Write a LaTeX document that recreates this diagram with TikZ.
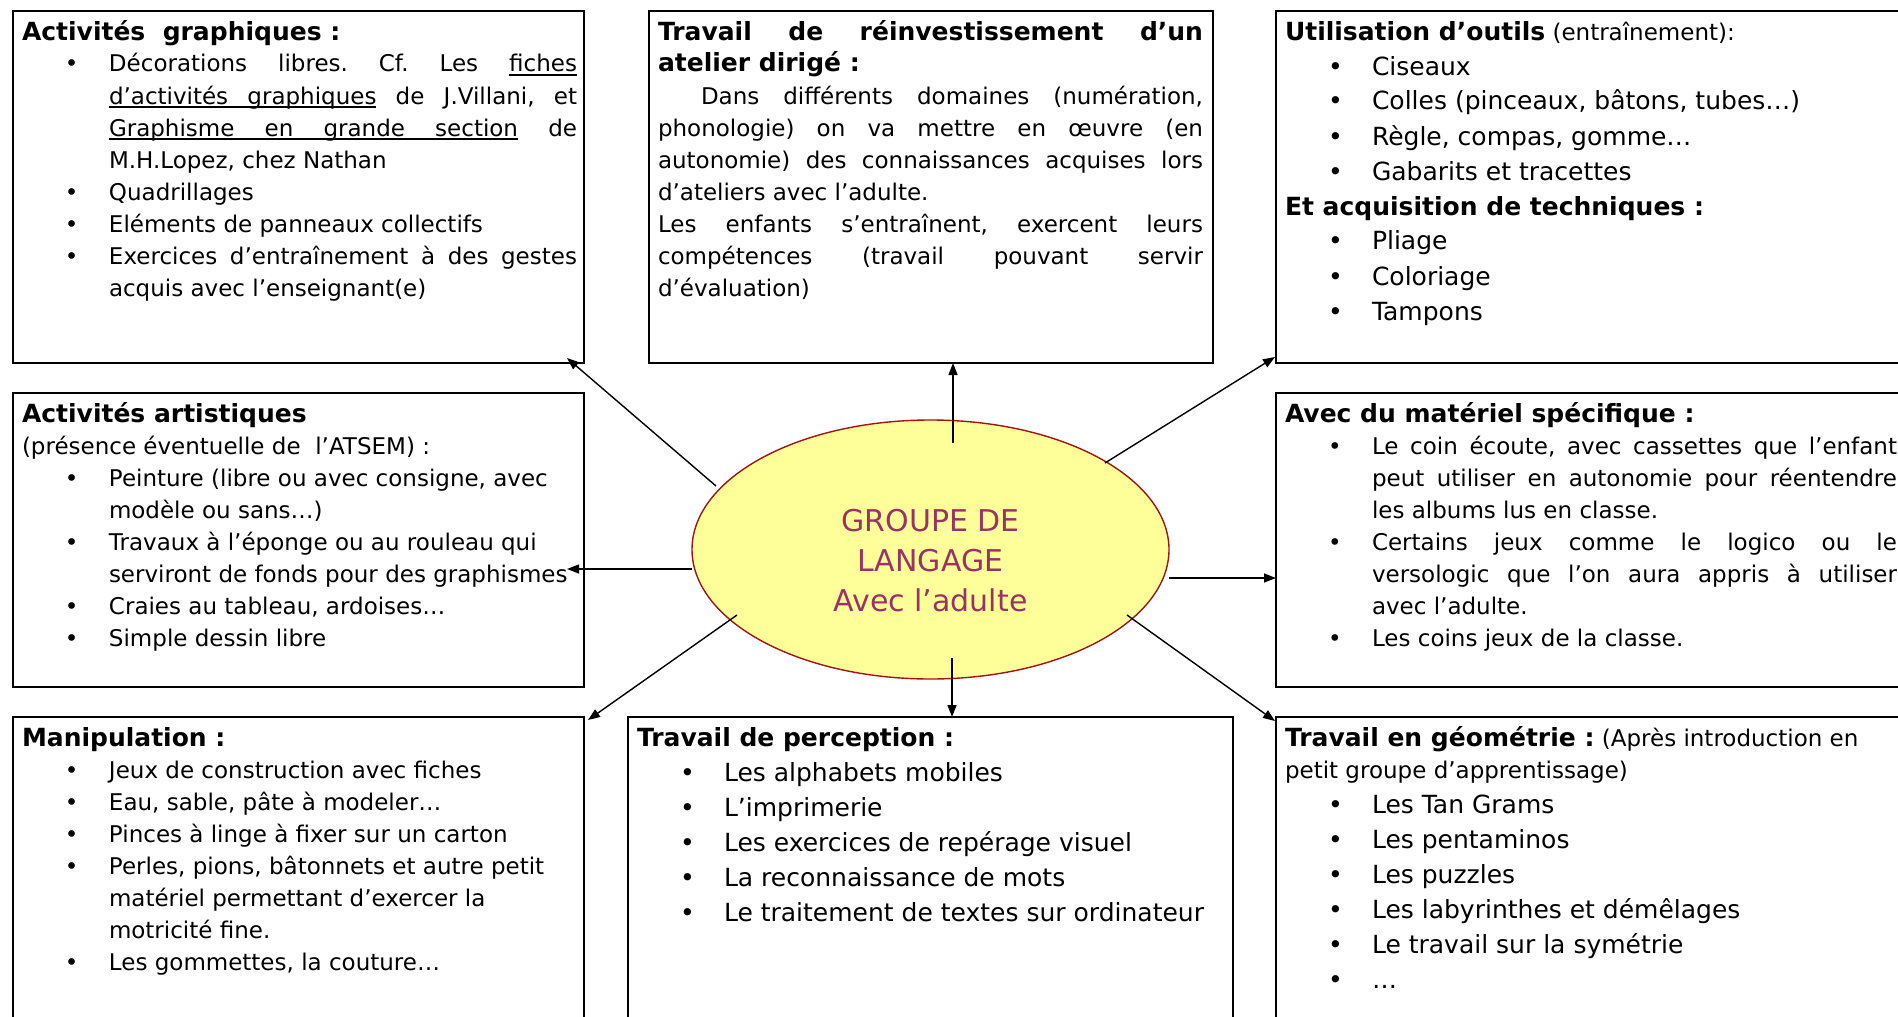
\documentclass[tikz,border=0pt]{standalone}
\usepackage{fontspec}
\setmainfont{DejaVu Sans}
\usetikzlibrary{arrows.meta,calc,shapes.geometric}
\definecolor{ellfill}{RGB}{255,255,153}
\definecolor{elldraw}{RGB}{160,20,20}
\definecolor{elltext}{RGB}{153,51,102}
\frenchspacing
\newcommand\setupbox{\hyphenpenalty=10000\exhyphenpenalty=10000\tolerance=10000\hbadness=10000\hfuzz=20pt\emergencystretch=0pt}
\newcommand\bodysz{\fontsize{23pt}{32pt}\selectfont}
\newcommand\bigsz{\fontsize{25pt}{35pt}\selectfont}
\newcommand\ttlsz{\fontsize{25pt}{33pt}\selectfont\bfseries}
\newcommand\fst{\rule{0pt}{22pt}}
\newcommand\itm[1]{\par\hangindent=87pt\hangafter=1\noindent\makebox[87pt][l]{\hspace{43pt}\textbullet}#1}
\newcommand\ulw[1]{\setbox0\hbox{#1}\rlap{\vrule height -2.4pt depth 4pt width \wd0}\box0\relax}
\newcommand\ulsp{\leaders\hrule height -2.4pt depth 4pt\hskip\fontdimen2\font plus\fontdimen3\font minus\fontdimen4\font\relax}
\tikzset{
  box/.style={draw=black, line width=1.8pt, rectangle, inner sep=0pt, outer sep=0pt, anchor=north west},
  txt/.style={anchor=north west, inner sep=0pt, outer sep=0pt, text=black, align=justify},
  arr/.style={line width=1.4pt, -{Triangle[length=12pt,width=9pt]}}
}
\begin{document}
\begin{tikzpicture}[x=1pt,y=-1pt]
\useasboundingbox (0,0) rectangle (1898,1017);
\fill[white] (0,0) rectangle (1898,1017);
\clip (0,0) rectangle (1898,1017);

% boxes
\node[box, minimum width=571pt, minimum height=352pt] (tl) at (13,11) {};
\node[box, minimum width=564pt, minimum height=352pt] (tm) at (649,11) {};
\node[box, minimum width=700pt, minimum height=352pt] (tr) at (1276,11) {};
\node[box, minimum width=571pt, minimum height=294pt] (ml) at (13,393) {};
\node[box, minimum width=700pt, minimum height=294pt] (mr) at (1276,393) {};
\node[box, minimum width=571pt, minimum height=400pt] (bl) at (13,717) {};
\node[box, minimum width=605pt, minimum height=400pt] (bm) at (628,717) {};
\node[box, minimum width=700pt, minimum height=400pt] (br) at (1276,717) {};

% texts
\node[txt, text width=555pt] (tltext) at ($(tl.north west)+(9,7)$) {\setupbox\bodysz
\noindent\fst{\ttlsz Activités\ \ graphiques :}
\itm{Décorations libres. Cf. Les \ulw{fiches}\linebreak \ulw{d’activités}\ulsp\ulw{graphiques} de J.Villani, et\linebreak \ulw{Graphisme}\ulsp\ulw{en}\ulsp\ulw{grande}\ulsp\ulw{section} de\linebreak M.H.Lopez, chez Nathan}
\itm{Quadrillages}
\itm{Eléments de panneaux collectifs}
\itm{Exercices d’entraînement à des gestes\linebreak acquis avec l’enseignant(e)}\par};

\node[txt, text width=545pt] (tmtext) at ($(tm.north west)+(9,7)$) {\setupbox\bodysz
\noindent\fst{\ttlsz Travail de réinvestissement d’un\linebreak atelier dirigé :}\par
\noindent\hspace*{43pt}Dans différents domaines (numération,\linebreak phonologie) on va mettre en œuvre (en\linebreak autonomie) des connaissances acquises lors\linebreak d’ateliers avec l’adulte.\par
\noindent Les enfants s’entraînent, exercent leurs\linebreak compétences (travail pouvant servir\linebreak d’évaluation)\par};

\node[txt, text width=600pt] (trtext) at ($(tr.north west)+(9,7)$) {\setupbox\bodysz
\noindent\fst{\ttlsz Utilisation d’outils} (entraînement):\par
\bigsz
\itm{Ciseaux}
\itm{Colles (pinceaux, bâtons, tubes…)}
\itm{Règle, compas, gomme…}
\itm{Gabarits et tracettes}
\par\noindent{\ttlsz Et acquisition de techniques :}
\itm{Pliage}
\itm{Coloriage}
\itm{Tampons}\par};

\node[txt, text width=560pt] (mltext) at ($(ml.north west)+(9,7)$) {\setupbox\bodysz
\noindent\fst{\ttlsz Activités artistiques}\par
\noindent(présence éventuelle de\ \ l’ATSEM) :
\itm{Peinture (libre ou avec consigne, avec\newline modèle ou sans…)}
\itm{Travaux à l’éponge ou au rouleau qui\newline serviront de fonds pour des graphismes}
\itm{Craies au tableau, ardoises…}
\itm{Simple dessin libre}\par};

\node[txt, text width=612pt] (mrtext) at ($(mr.north west)+(9,7)$) {\setupbox\bodysz
\noindent\fst{\ttlsz Avec du matériel spécifique :}
\itm{Le coin écoute, avec cassettes que l’enfant\linebreak peut utiliser en autonomie pour réentendre\linebreak les albums lus en classe.}
\itm{Certains jeux comme le logico ou le\linebreak versologic que l’on aura appris à utiliser\linebreak avec l’adulte.}
\itm{Les coins jeux de la classe.}\par};

\node[txt, text width=560pt] (bltext) at ($(bl.north west)+(9,7)$) {\setupbox\bodysz
\noindent\fst{\ttlsz Manipulation :}
\itm{Jeux de construction avec fiches}
\itm{Eau, sable, pâte à modeler…}
\itm{Pinces à linge à fixer sur un carton}
\itm{Perles, pions, bâtonnets et autre petit\newline matériel permettant d’exercer la\newline motricité fine.}
\itm{Les gommettes, la couture…}\par};

\node[txt, text width=590pt] (bmtext) at ($(bm.north west)+(9,7)$) {\setupbox\bigsz
\noindent\fst{\ttlsz Travail de perception :}
\itm{Les alphabets mobiles}
\itm{L’imprimerie}
\itm{Les exercices de repérage visuel}
\itm{La reconnaissance de mots}
\itm{Le traitement de textes sur ordinateur}\par};

\node[txt, text width=612pt] (brtext) at ($(br.north west)+(9,7)$) {\setupbox\bodysz
\noindent\fst{\ttlsz Travail en géométrie :} (Après introduction en\newline petit groupe d’apprentissage)\par
\bigsz
\itm{Les Tan Grams}
\itm{Les pentaminos}
\itm{Les puzzles}
\itm{Les labyrinthes et démêlages}
\itm{Le travail sur la symétrie}
\itm{…}\par};

% central ellipse
\node[ellipse, draw=elldraw, fill=ellfill, line width=1.4pt, minimum width=477pt, minimum height=259pt, inner sep=0pt] (ell) at (930.5,549.5) {};
\node[font=\fontsize{30pt}{40pt}\selectfont, text=elltext, align=center, inner sep=0pt] (etext) at (930.5,561) {GROUPE DE\\LANGAGE\\Avec l’adulte};

% arrow start points
\coordinate (s1) at (716,486);
\coordinate (s2) at (953,443);
\coordinate (s3) at (1105,463);
\coordinate (s4) at (692,569);
\coordinate (s5) at (1169,578);
\coordinate (s6) at (737,615);
\coordinate (s7) at (952,658);
\coordinate (s8) at (1127,615);

\draw[arr] (s1) -- ($(tl.south east)+(-17,-5)$);
\draw[arr] (s2) -- (s2 |- tm.south);
\draw[arr] (s3) -- ($(tr.south west)+(-1,-6)$);
\draw[arr] (s4) -- ($(s4 -| ml.east)+(-17,0)$);
\draw[arr] (s5) -- (s5 -| mr.west);
\draw[arr] (s6) -- ($(bl.north east)+(4,3)$);
\draw[arr] (s7) -- (s7 |- bm.north);
\draw[arr] (s8) -- ($(br.north west)+(-1,4)$);
\end{tikzpicture}
\end{document}
